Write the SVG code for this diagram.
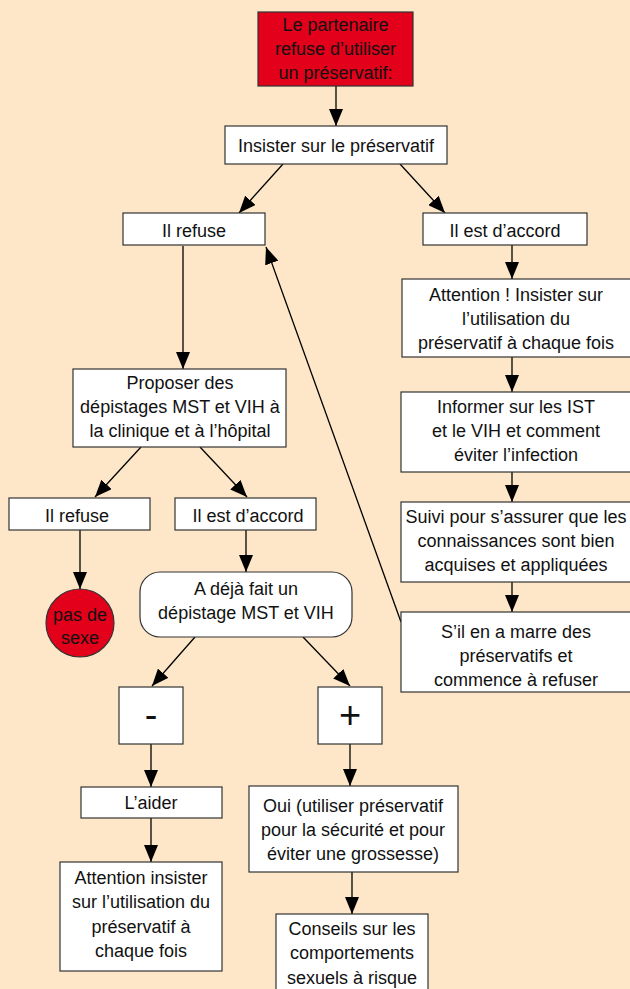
<svg xmlns="http://www.w3.org/2000/svg" width="630" height="989" viewBox="0 0 630 989">
<defs>
<marker id="ah" markerUnits="userSpaceOnUse" markerWidth="18" markerHeight="14" refX="17" refY="7" orient="auto">
<path d="M0,0 L17,7 L0,14 Z" fill="#000"/>
</marker>
<style>
.b{fill:#fff;stroke:#333;stroke-width:1.2}
.r{fill:#e2001a;stroke:#333;stroke-width:1.2}
text{font-family:"Liberation Sans",Arial,sans-serif;font-size:18px;fill:#111;text-anchor:middle}
.sym{font-size:38px}
#edges line{stroke:#000;stroke-width:1.3;marker-end:url(#ah)}
</style>
</defs>
<rect width="630" height="989" fill="#fde7c8"/>
<g id="edges">
<line x1="336" y1="86" x2="336" y2="126"/>
<line x1="283" y1="164" x2="239" y2="213"/>
<line x1="400" y1="164" x2="445" y2="213"/>
<line x1="183" y1="246" x2="183" y2="369"/>
<line x1="512" y1="245" x2="512" y2="279"/>
<line x1="512" y1="357" x2="512" y2="392"/>
<line x1="512" y1="472" x2="512" y2="502"/>
<line x1="512" y1="582" x2="512" y2="612"/>
<line x1="401" y1="622" x2="266" y2="247"/>
<line x1="141" y1="447" x2="95" y2="497"/>
<line x1="200" y1="447" x2="247" y2="497"/>
<line x1="80" y1="530" x2="80" y2="589"/>
<line x1="246" y1="530" x2="246" y2="572"/>
<line x1="195" y1="637" x2="152" y2="686"/>
<line x1="303" y1="637" x2="350" y2="686"/>
<line x1="151" y1="744" x2="151" y2="787"/>
<line x1="151" y1="818" x2="151" y2="862"/>
<line x1="350" y1="744" x2="350" y2="786"/>
<line x1="352" y1="872" x2="352" y2="914"/>
</g>
<g id="n_start"><rect class="r" x="258" y="12" width="155" height="74"/>
<text x="335.5" y="31">Le partenaire</text><text x="335.5" y="55">refuse d’utiliser</text><text x="335.5" y="79">un préservatif:</text></g>
<g id="n_insist"><rect class="b" x="225" y="126" width="222" height="38"/><text x="336" y="152">Insister sur le préservatif</text></g>
<g id="n_refuse1"><rect class="b" x="123" y="213" width="142" height="32"/><text x="194" y="237">Il refuse</text></g>
<g id="n_accord1"><rect class="b" x="423" y="213" width="164" height="32"/><text x="505" y="237">Il est d’accord</text></g>
<g id="n_attention"><rect class="b" x="402" y="279" width="235" height="78"/>
<text x="516" y="301">Attention ! Insister sur</text><text x="516" y="325">l’utilisation du</text><text x="516" y="349">préservatif à chaque fois</text></g>
<g id="n_informer"><rect class="b" x="401" y="392" width="235" height="80"/>
<text x="516" y="413">Informer sur les IST</text><text x="516" y="437">et le VIH et comment</text><text x="516" y="461">éviter l’infection</text></g>
<g id="n_suivi"><rect class="b" x="401" y="502" width="235" height="80"/>
<text x="516" y="523">Suivi pour s’assurer que les</text><text x="516" y="547">connaissances sont bien</text><text x="516" y="571">acquises et appliquées</text></g>
<g id="n_marre"><rect class="b" x="401" y="612" width="235" height="80"/>
<text x="516" y="638">S’il en a marre des</text><text x="516" y="662">préservatifs et</text><text x="516" y="686">commence à refuser</text></g>
<g id="n_proposer"><rect class="b" x="73" y="369" width="213" height="78"/>
<text x="180" y="389">Proposer des</text><text x="180" y="413">dépistages MST et VIH à</text><text x="180" y="437">la clinique et à l’hôpital</text></g>
<g id="n_refuse2"><rect class="b" x="9" y="498" width="141" height="32"/><text x="77" y="522">Il refuse</text></g>
<g id="n_accord2"><rect class="b" x="175" y="498" width="141" height="32"/><text x="248" y="522">Il est d’accord</text></g>
<g id="n_nosex"><circle cx="80" cy="623" r="34" class="r"/><text x="80" y="621">pas de</text><text x="80" y="644">sexe</text></g>
<g id="n_deja"><rect class="b" x="140" y="572" width="212" height="65" rx="20"/>
<text x="246" y="595">A déjà fait un</text><text x="246" y="619">dépistage MST et VIH</text></g>
<g id="n_minus"><rect class="b" x="119" y="687" width="64" height="57"/><text class="sym" x="151" y="728">-</text></g>
<g id="n_plus"><rect class="b" x="318" y="687" width="64" height="57"/><text class="sym" x="350" y="728">+</text></g>
<g id="n_aider"><rect class="b" x="81" y="787" width="141" height="31"/><text x="151" y="809">L’aider</text></g>
<g id="n_att2"><rect class="b" x="60" y="862" width="162" height="109"/>
<text x="141" y="884">Attention insister</text><text x="141" y="908">sur l’utilisation du</text><text x="141" y="933">préservatif à</text><text x="141" y="957">chaque fois</text></g>
<g id="n_oui"><rect class="b" x="249" y="786" width="209" height="86"/>
<text x="353" y="812">Oui (utiliser préservatif</text><text x="353" y="836">pour la sécurité et pour</text><text x="353" y="860">éviter une grossesse)</text></g>
<g id="n_conseils"><rect class="b" x="276" y="914" width="152" height="85"/>
<text x="352" y="935">Conseils sur les</text><text x="352" y="959">comportements</text><text x="352" y="984">sexuels à risque</text></g>
</svg>
